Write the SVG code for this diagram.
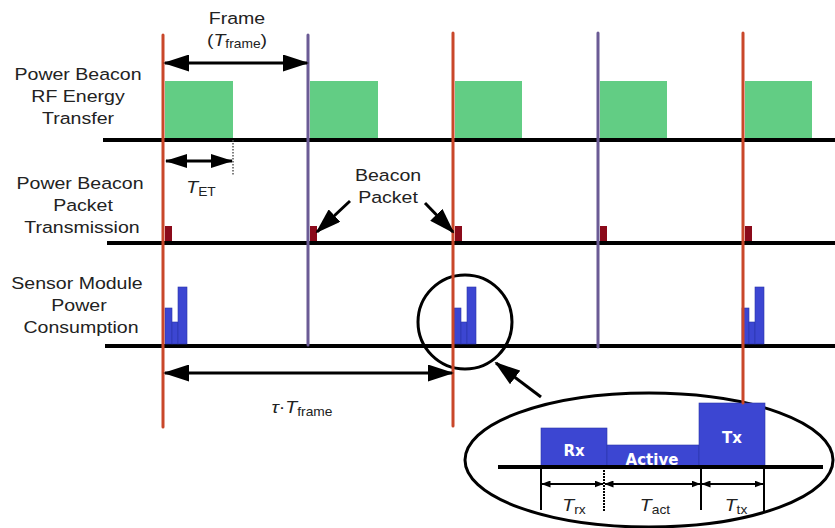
<svg xmlns="http://www.w3.org/2000/svg" width="835" height="528" viewBox="0 0 835 528">
  <style>
    .lbl { font-family: "Liberation Sans", Arial, sans-serif; font-size: 17px; fill: #222; text-anchor: middle; }
    .sub { font-size: 12px; }
    .it { font-style: italic; }
    .base { stroke: #000; stroke-width: 4; fill: none; }
    .orange { stroke: #c9472a; stroke-width: 3; stroke-linecap: round; fill: none; }
    .purple { stroke: #6b5b95; stroke-width: 3; stroke-linecap: round; fill: none; }
    .energy { fill: #62cd84; }
    .pkt { fill: #8b0a1a; }
    .pulse { fill: #3c46d2; stroke: #2a35a8; stroke-width: 0.6; }
    .arrow { stroke: #000; stroke-width: 3; fill: none; }
    .thin { stroke: #000; stroke-width: 2; fill: none; }
    .inner { font-family: "DejaVu Sans", Verdana, sans-serif; font-weight: bold; font-size: 15px; fill: #fff; text-anchor: middle; }
  </style>
  <defs>
    <marker id="ahBig" markerUnits="userSpaceOnUse" viewBox="0 0 26 17" markerWidth="26" markerHeight="17" refX="24" refY="8.5" orient="auto-start-reverse">
      <path d="M0,0 L26,8.5 L0,17 z" fill="#000"/>
    </marker>
    <marker id="ahMid" markerUnits="userSpaceOnUse" viewBox="0 0 22 14" markerWidth="22" markerHeight="14" refX="21" refY="7" orient="auto-start-reverse">
      <path d="M0,0 L22,7 L0,14 z" fill="#000"/>
    </marker>
    <marker id="ahSmall" markerUnits="userSpaceOnUse" viewBox="0 0 9 7" markerWidth="9" markerHeight="7" refX="8.5" refY="3.5" orient="auto-start-reverse">
      <path d="M0,0 L9,3.5 L0,7 z" fill="#000"/>
    </marker>
    <g id="burst">
      <rect class="pulse" x="0" y="308" width="7" height="36"/>
      <rect class="pulse" x="7" y="322" width="6" height="22"/>
      <rect class="pulse" x="13" y="287" width="9" height="57"/>
    </g>
  </defs>

  <!-- row labels -->
  <g id="labels">
    <text class="lbl" transform="translate(78,80) scale(1.15,1)">Power Beacon</text>
    <text class="lbl" transform="translate(78,102) scale(1.15,1)">RF Energy</text>
    <text class="lbl" transform="translate(78,124) scale(1.15,1)">Transfer</text>
    <text class="lbl" transform="translate(80,189) scale(1.15,1)">Power Beacon</text>
    <text class="lbl" transform="translate(83,211) scale(1.15,1)">Packet</text>
    <text class="lbl" transform="translate(82,233) scale(1.15,1)">Transmission</text>
    <text class="lbl" transform="translate(77,289) scale(1.15,1)">Sensor Module</text>
    <text class="lbl" transform="translate(79,311) scale(1.15,1)">Power</text>
    <text class="lbl" transform="translate(81,333) scale(1.15,1)">Consumption</text>
  </g>

  <!-- time axes -->
  <g id="axes">
    <line class="base" x1="103" y1="140" x2="835" y2="140"/>
    <line class="base" x1="107" y1="243" x2="835" y2="243"/>
    <line class="base" x1="105" y1="346" x2="835" y2="346"/>
  </g>

  <!-- RF energy transfer windows -->
  <g id="energy">
    <rect class="energy" x="165" y="81" width="68" height="57"/>
    <rect class="energy" x="310" y="81" width="68" height="57"/>
    <rect class="energy" x="455" y="81" width="67" height="57"/>
    <rect class="energy" x="600" y="81" width="67" height="57"/>
    <rect class="energy" x="745" y="81" width="67" height="57"/>
  </g>

  <!-- beacon packets -->
  <g id="packets">
    <rect class="pkt" x="165" y="226" width="7" height="15"/>
    <rect class="pkt" x="310" y="226" width="7" height="15"/>
    <rect class="pkt" x="455" y="226" width="7" height="15"/>
    <rect class="pkt" x="600" y="226" width="7" height="15"/>
    <rect class="pkt" x="745" y="226" width="7" height="15"/>
  </g>

  <!-- sensor power bursts -->
  <g id="bursts">
    <use href="#burst" x="165"/>
    <use href="#burst" x="454"/>
    <use href="#burst" x="742"/>
  </g>

  <!-- zoom circle and detail ellipse -->
  <g id="zoom-circle">
    <circle cx="465" cy="322" r="47" fill="none" stroke="#000" stroke-width="3"/>
  </g>
  <g id="detail">
    <ellipse cx="649" cy="460" rx="184" ry="67" fill="#fff" stroke="#000" stroke-width="3"/>
    <rect class="pulse" x="541" y="428" width="66" height="38"/>
    <rect class="pulse" x="607" y="445" width="92" height="21"/>
    <rect class="pulse" x="699" y="403" width="66" height="63"/>
    <line class="base" x1="498" y1="467" x2="823" y2="467"/>
    <text class="inner" x="574" y="456">Rx</text>
    <text class="inner" x="652" y="465">Active</text>
    <text class="inner" x="732" y="443">Tx</text>
    <line class="thin" x1="541" y1="467" x2="541" y2="510"/>
    <line class="thin" x1="604" y1="467" x2="604" y2="512" stroke-dasharray="2 1"/>
    <line class="thin" x1="701" y1="467" x2="701" y2="510"/>
    <line class="thin" x1="764" y1="467" x2="764" y2="512"/>
    <text class="lbl" transform="translate(574,511) scale(1.15,1)"><tspan class="it">T</tspan><tspan class="sub" dy="3">rx</tspan></text>
    <text class="lbl" transform="translate(655,511) scale(1.15,1)"><tspan class="it">T</tspan><tspan class="sub" dy="3">act</tspan></text>
    <text class="lbl" transform="translate(736,511) scale(1.15,1)"><tspan class="it">T</tspan><tspan class="sub" dy="3">tx</tspan></text>
  </g>

  <!-- frame boundaries -->
  <g id="frame-lines">
    <line class="orange" x1="163" y1="35" x2="163" y2="427"/>
    <line class="purple" x1="308" y1="35" x2="308" y2="345"/>
    <line class="orange" x1="453" y1="33" x2="453" y2="426"/>
    <line class="purple" x1="598" y1="33" x2="598" y2="347"/>
    <line class="orange" x1="743" y1="33" x2="743" y2="403"/>
  </g>

  <!-- annotations and arrows -->
  <g id="connectors">
    <line class="arrow" x1="165" y1="63" x2="307" y2="63" marker-start="url(#ahBig)" marker-end="url(#ahBig)"/>
    <line class="arrow" x1="166" y1="161" x2="232" y2="161" marker-start="url(#ahMid)" marker-end="url(#ahMid)"/>
    <line x1="233" y1="140" x2="233" y2="175" stroke="#555" stroke-width="1.5" stroke-dasharray="1.5 1.5"/>
    <line class="arrow" x1="350" y1="201" x2="317" y2="232" marker-end="url(#ahBig)"/>
    <line class="arrow" x1="425" y1="203" x2="453" y2="232" marker-end="url(#ahBig)"/>
    <line class="arrow" x1="165" y1="373" x2="452" y2="373" marker-start="url(#ahBig)" marker-end="url(#ahBig)"/>
    <line class="arrow" x1="541" y1="397" x2="496" y2="363" marker-end="url(#ahBig)"/>
    <line class="thin" x1="542" y1="484" x2="603" y2="484" marker-start="url(#ahSmall)" marker-end="url(#ahSmall)"/>
    <line class="thin" x1="605" y1="484" x2="700" y2="484" marker-start="url(#ahSmall)" marker-end="url(#ahSmall)"/>
    <line class="thin" x1="702" y1="484" x2="763" y2="484" marker-start="url(#ahSmall)" marker-end="url(#ahSmall)"/>
  </g>

  <g id="annotations">
    <text class="lbl" transform="translate(237,24) scale(1.15,1)">Frame</text>
    <text class="lbl" transform="translate(237,46) scale(1.15,1)">(<tspan class="it">T</tspan><tspan class="sub" dy="2">frame</tspan><tspan dy="-2">)</tspan></text>
    <text class="lbl" transform="translate(201,193) scale(1.15,1)"><tspan class="it">T</tspan><tspan class="sub" dy="3">ET</tspan></text>
    <text class="lbl" transform="translate(388,181) scale(1.15,1)">Beacon</text>
    <text class="lbl" transform="translate(388,203) scale(1.15,1)">Packet</text>
    <text class="lbl" transform="translate(302,413) scale(1.15,1)"><tspan class="it">τ</tspan>·<tspan class="it">T</tspan><tspan class="sub" dy="3">frame</tspan></text>
  </g>
</svg>
